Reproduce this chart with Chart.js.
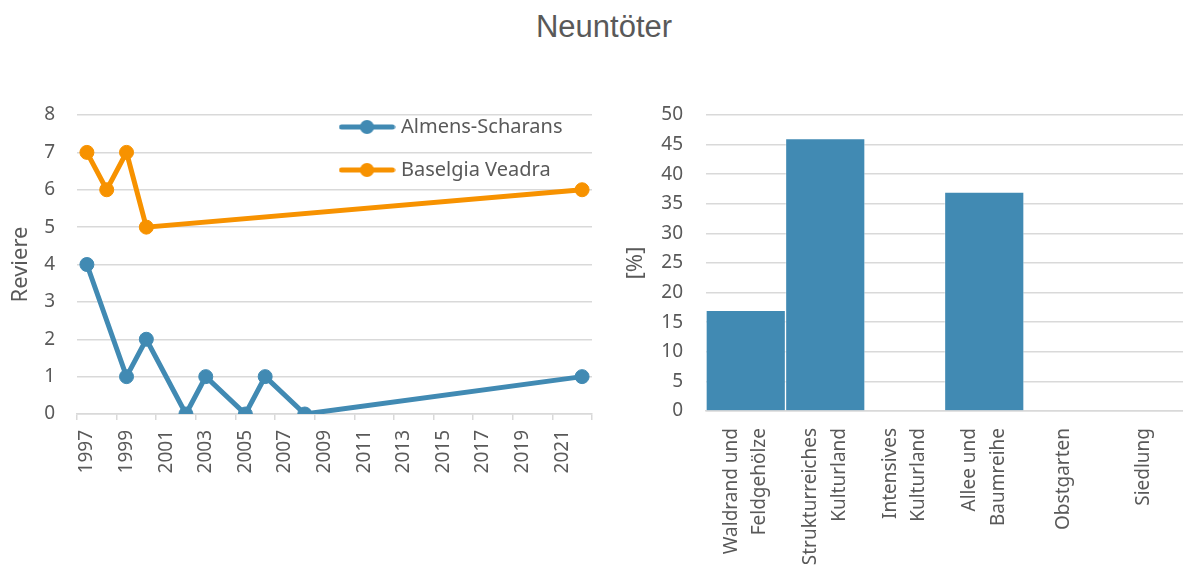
<!DOCTYPE html>
<html>
<head>
<meta charset="utf-8">
<title>Neuntöter</title>
<script src="https://cdn.jsdelivr.net/npm/chart.js@4.4.1/dist/chart.umd.min.js"></script>
<style>
  html, body { margin: 0; padding: 0; background: #fff; }
  #page { position: relative; width: 1183px; height: 577px; overflow: hidden; }
  #title {
    position: absolute; left: 0; top: 11px; width: 1208px;
    text-align: center; color: #595959;
    font: 31px 'Liberation Sans', Arial, sans-serif; line-height: 31px;
  }
  .box { position: absolute; top: 0; height: 577px; }
  #leftBox { left: 0; width: 600px; }
  #rightBox { left: 600px; width: 583px; }
</style>
</head>
<body>
<div id="page">
  <div id="title">Neuntöter</div>
  <div class="box" id="leftBox"><canvas id="trendChart"></canvas></div>
  <div class="box" id="rightBox"><canvas id="habitatChart"></canvas></div>
</div>

<script>
// -----------------------------
// Data
// -----------------------------
const years = [
  '1997', '1998', '1999', '2000', '2001', '2002', '2003', '2004', '2005',
  '2006', '2007', '2008', '2009', '2010', '2011', '2012', '2013', '2014',
  '2015', '2016', '2017', '2018', '2019', '2020', '2021', '2022'
];
// Reviere per year (null = not counted)
const almensScharans = [
  4, null, 1, 2, null, 0, 1, null, 0, 1, null, 0,
  null, null, null, null, null, null, null, null, null, null, null, null, null,
  1
];
const baselgiaVeadra = [
  7, 6, 7, 5,
  null, null, null, null, null, null, null, null, null, null, null,
  null, null, null, null, null, null, null, null, null, null,
  6
];

const habitats = [
  ['Waldrand und', 'Feldgehölze'],
  ['Strukturreiches', 'Kulturland'],
  ['Intensives', 'Kulturland'],
  ['Allee und', 'Baumreihe'],
  ['', 'Obstgarten'],
  ['', 'Siedlung']
];
const habitatShare = [17, 46, 0, 37, 0, 0];

const reviereTicks = { min: 0, max: 8, step: 1 };
const shareTicks = { min: 0, max: 50, step: 5 };

// -----------------------------
// Styling
// -----------------------------
const BLUE = '#418AB3';
const ORANGE = '#F79200';
const TEXT = '#595959';
const GRID = '#d9d9d9';

Chart.defaults.font.family = "'Noto Sans', 'Open Sans', sans-serif";
Chart.defaults.color = TEXT;
Chart.defaults.animation = false;

// legend symbol: line with a dot in the middle
function legendMark(color) {
  const c = document.createElement('canvas');
  c.width = 57;
  c.height = 16;
  const g = c.getContext('2d');
  g.strokeStyle = color;
  g.lineWidth = 5;
  g.lineCap = 'round';
  g.beginPath();
  g.moveTo(3, 8);
  g.lineTo(54, 8);
  g.stroke();
  g.fillStyle = color;
  g.beginPath();
  g.arc(28.5, 8, 7, 0, Math.PI * 2);
  g.fill();
  return c;
}

// move the in-plot legend to the top right of the chart area
const legendSpot = {
  id: 'legendSpot',
  afterLayout(chart, args, opts) {
    const lg = chart.legend;
    if (!lg || opts.left == null) return;
    lg.left = opts.left;
    lg.top = opts.top;
    lg.right = chart.chartArea.right;
    lg.bottom = chart.chartArea.bottom;
  }
};

// fixed axis box sizes, no extra side padding from rotated labels
function fixHeight(h) {
  return s => {
    s.height = h;
    s.paddingLeft = 0;
    s.paddingRight = 0;
  };
}

// -----------------------------
// Left: Reviere trend
// -----------------------------
new Chart(document.getElementById('trendChart'), {
  type: 'line',
  plugins: [legendSpot],
  data: {
    labels: years,
    datasets: [
      {
        label: 'Almens-Scharans',
        data: almensScharans,
        borderColor: BLUE,
        backgroundColor: BLUE,
        borderWidth: 5,
        pointRadius: 7,
        pointBorderWidth: 1,
        spanGaps: true,
        tension: 0
      },
      {
        label: 'Baselgia Veadra',
        data: baselgiaVeadra,
        borderColor: ORANGE,
        backgroundColor: ORANGE,
        borderWidth: 5,
        pointRadius: 7,
        pointBorderWidth: 1,
        spanGaps: true,
        tension: 0
      }
    ]
  },
  options: {
    responsive: true,
    maintainAspectRatio: false,
    events: [],
    layout: { padding: { top: 115, right: 7, bottom: 0, left: 0 } },
    plugins: {
      title: { display: false },
      tooltip: { enabled: false },
      legendSpot: { left: 320, top: 94 },
      legend: {
        position: 'chartArea',
        align: 'start',
        labels: {
          usePointStyle: true,
          pointStyleWidth: 48,
          padding: 23,
          color: TEXT,
          font: { size: 20 },
          generateLabels: chart => chart.data.datasets.map((ds, i) => ({
            text: ds.label,
            pointStyle: legendMark(ds.borderColor),
            fillStyle: ds.borderColor,
            strokeStyle: ds.borderColor,
            lineWidth: 0,
            fontColor: TEXT,
            hidden: false,
            datasetIndex: i
          }))
        }
      }
    },
    scales: {
      x: {
        type: 'category',
        offset: true,
        afterFit: fixHeight(163),
        border: { display: true, color: GRID, width: 1.5 },
        grid: {
          offset: true,
          drawOnChartArea: false,
          drawTicks: true,
          tickLength: 6,
          lineWidth: 1.5,
          color: ctx => (ctx.type !== 'tick' || ctx.index % 2 === 0) ? GRID : 'rgba(0,0,0,0)'
        },
        ticks: {
          autoSkip: false,
          minRotation: 90,
          maxRotation: 90,
          padding: 10,
          color: TEXT,
          font: { size: 19 },
          callback: (val, i) => (i % 2 === 0 ? years[i] : '')
        }
      },
      y: {
        min: reviereTicks.min,
        max: reviereTicks.max,
        afterFit: s => { s.width = 77; },
        border: { display: false },
        grid: { color: GRID, lineWidth: 1.5, drawTicks: false },
        ticks: { stepSize: reviereTicks.step, padding: 22, color: TEXT, font: { size: 19 } },
        title: {
          display: true,
          text: 'Reviere',
          color: TEXT,
          font: { size: 22 },
          padding: { top: 8, bottom: 0 }
        }
      }
    }
  }
});

// -----------------------------
// Right: habitat share
// -----------------------------
const LINE_H = 1.5;

new Chart(document.getElementById('habitatChart'), {
  type: 'bar',
  data: {
    labels: habitats,
    datasets: [{
      label: '[%]',
      data: habitatShare,
      backgroundColor: BLUE,
      borderColor: 'rgba(255,255,255,0.35)',
      borderWidth: 1,
      categoryPercentage: 1,
      barPercentage: 1
    }]
  },
  options: {
    responsive: true,
    maintainAspectRatio: false,
    events: [],
    layout: { padding: { top: 115, right: 0, bottom: 0, left: 0 } },
    plugins: {
      legend: { display: false },
      tooltip: { enabled: false }
    },
    scales: {
      x: {
        afterFit: fixHeight(166),
        border: { display: true, color: GRID, width: 1.5 },
        grid: { drawOnChartArea: false, drawTicks: false },
        ticks: {
          autoSkip: false,
          minRotation: 90,
          maxRotation: 90,
          padding: 17,
          labelOffset: -19 * LINE_H / 2,
          color: TEXT,
          // single-line labels carry an empty first line; halve their line height so they stay centred
          font: ctx => ({
            size: 19,
            lineHeight: (habitats[ctx.index] && habitats[ctx.index][0] === '') ? LINE_H / 2 : LINE_H
          })
        }
      },
      y: {
        min: shareTicks.min,
        max: shareTicks.max,
        afterFit: s => { s.width = 106; },
        border: { display: false },
        grid: { color: GRID, lineWidth: 1.5, drawTicks: false },
        ticks: { stepSize: shareTicks.step, padding: 23, color: TEXT, font: { size: 19 } },
        title: {
          display: true,
          text: '[%]',
          color: TEXT,
          font: { size: 22 },
          padding: { top: 23, bottom: 0 }
        }
      }
    }
  }
});
</script>
</body>
</html>
